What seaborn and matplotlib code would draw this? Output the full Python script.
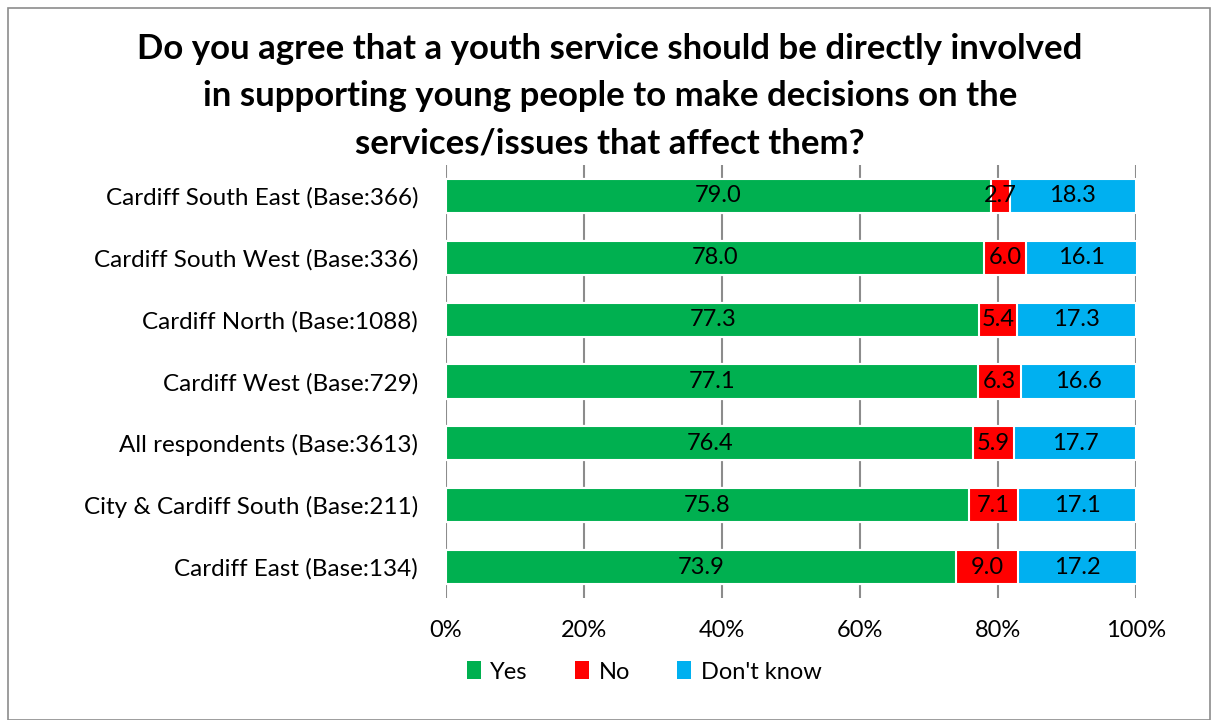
import matplotlib
matplotlib.use("Agg")
import matplotlib.pyplot as plt
import seaborn as sns
import pandas as pd
import numpy as np
from matplotlib.patches import Rectangle, Patch

categories = [
    "Cardiff South East (Base:366)",
    "Cardiff South West (Base:336)",
    "Cardiff North (Base:1088)",
    "Cardiff West (Base:729)",
    "All respondents (Base:3613)",
    "City & Cardiff South (Base:211)",
    "Cardiff East (Base:134)",
]
yes = [79.0, 78.0, 77.3, 77.1, 76.4, 75.8, 73.9]
no = [2.7, 6.0, 5.4, 6.3, 5.9, 7.1, 9.0]
dont_know = [18.3, 16.1, 17.3, 16.6, 17.7, 17.1, 17.2]
series_names = ["Yes", "No", "Don't know"]
colors = ["#00B050", "#FF0000", "#00B0F0"]
xticks = [0, 20, 40, 60, 80, 100]
title = ("Do you agree that a youth service should be directly involved\n"
         "in supporting young people to make decisions on the\n"
         "services/issues that affect them?")

sns.set_theme(style="white")
plt.rcParams["font.family"] = ["Lato", "DejaVu Sans"]
plt.rcParams["text.color"] = "black"
plt.rcParams["xtick.color"] = "black"
plt.rcParams["ytick.color"] = "black"

df = pd.DataFrame({"cat": categories, "yes": yes, "no": no, "dk": dont_know})
df["c1"] = df["yes"]
df["c2"] = df["yes"] + df["no"]
df["c3"] = df["yes"] + df["no"] + df["dk"]

fig = plt.figure(figsize=(12.11, 7.2), dpi=100)
ax = fig.add_axes([446/1211, 1-598/720, (1136-446)/1211, (598-165)/720])

for col, color in zip(["c3", "c2", "c1"], colors[::-1]):
    sns.barplot(data=df, x=col, y="cat", order=categories, orient="h",
                color=color, saturation=1, width=0.55, edgecolor="white",
                linewidth=1.5, ax=ax, zorder=3)

starts = [np.zeros(len(df)), df["c1"].values, df["c2"].values]
vals = [df["yes"].values, df["no"].values, df["dk"].values]
for s, v in zip(starts, vals):
    for i, (ss, vv) in enumerate(zip(s, v)):
        ax.text(ss + vv / 2, i, f"{vv:.1f}", ha="center", va="center",
                fontsize=17, color="black", zorder=5)

ax.set_xlim(0, 100)
ax.set_ylim(len(categories) - 0.5, -0.5)
ax.set_xticks(xticks)
ax.set_xticklabels([f"{t}%" for t in xticks], fontsize=17)
ax.tick_params(axis="y", labelsize=17.5, length=0, pad=20)
ax.tick_params(axis="x", length=0, pad=16)
ax.set_xlabel("")
ax.set_ylabel("")
for sp in ax.spines.values():
    sp.set_visible(False)
ax.xaxis.grid(True, color="#8c8c8c", linewidth=1.5, zorder=0)
ax.set_axisbelow(True)

fig.suptitle(title, fontsize=25, fontweight="bold", y=1-33/720, va="top",
             x=610/1211, linespacing=1.58, color="black")

handles = [Patch(facecolor=c, edgecolor="none") for c in colors]
fig.legend(handles, series_names, loc="center", ncol=3, frameon=False,
           bbox_to_anchor=(644/1211, 1-672/720), fontsize=17,
           handlelength=0.6, handleheight=0.8, handletextpad=0.4,
           columnspacing=2.0)

fig.patches.append(Rectangle((8/1211, 0), 1 - 8/1211 - 0.001, 1 - 8/720,
                             transform=fig.transFigure, fill=False,
                             edgecolor="#8c8c8c", linewidth=1.2))

fig.savefig("out.png", dpi=100)
